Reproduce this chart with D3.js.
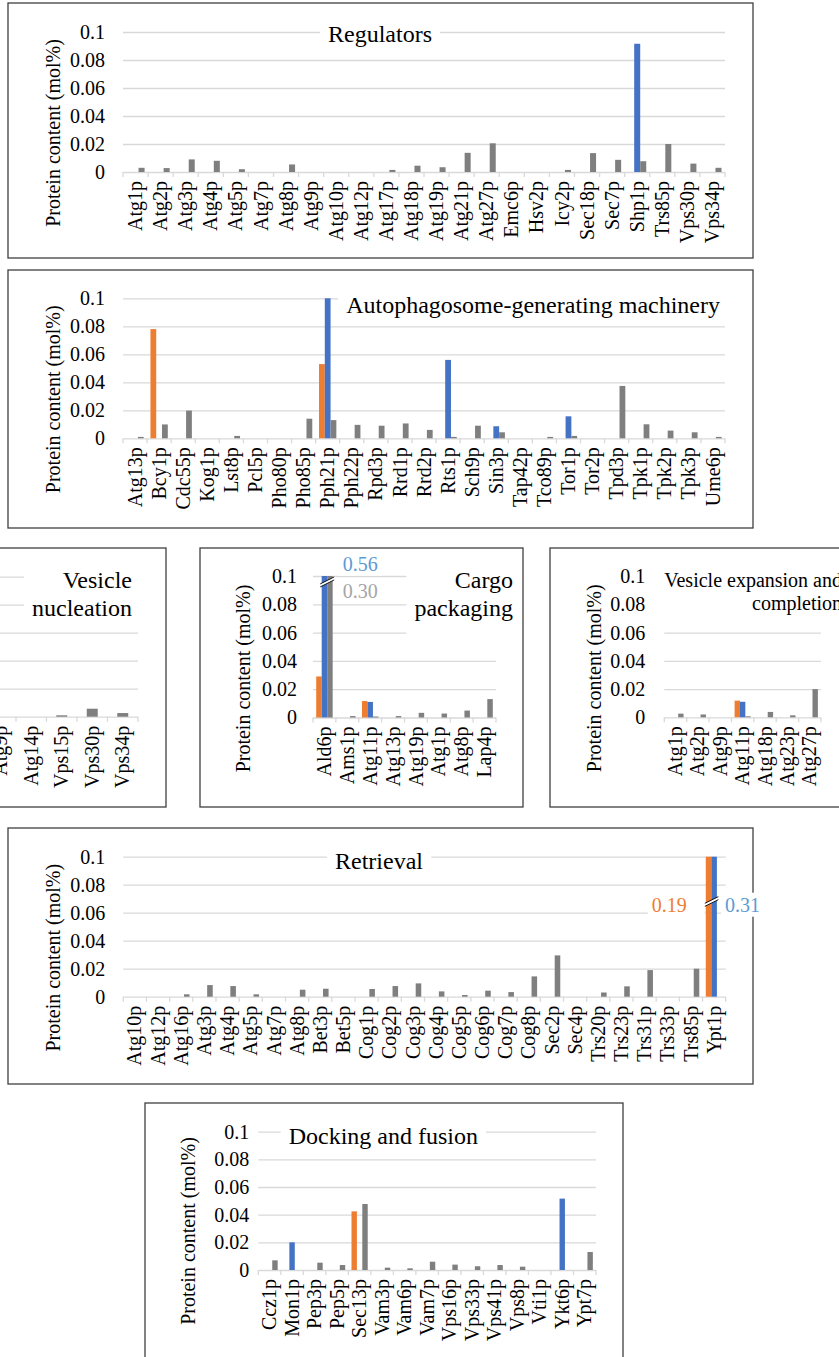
<!DOCTYPE html>
<html>
<head>
<meta charset="utf-8">
<script src="https://cdn.jsdelivr.net/npm/d3@7"></script>
<style>
  body { margin: 0; background: #fff; }
  svg, text { font-family: "Liberation Serif", "Times New Roman", serif; }
</style>
</head>
<body>
<div id="container"></div>
<script>
// data (mol%), three series per protein: orange, blue, gray
let regulatorsCategories = ["Atg1p", "Atg2p", "Atg3p", "Atg4p", "Atg5p", "Atg7p", "Atg8p", "Atg9p", "Atg10p", "Atg12p", "Atg17p", "Atg18p", "Atg19p", "Atg21p", "Atg27p", "Emc6p", "Hsv2p", "Icy2p", "Sec18p", "Sec7p", "Shp1p", "Trs85p", "Vps30p", "Vps34p"];
let regulatorsOrange = [0, 0, 0, 0, 0, 0, 0, 0, 0, 0, 0, 0, 0, 0, 0, 0, 0, 0, 0, 0, 0, 0, 0, 0];
let regulatorsBlue = [0, 0, 0, 0, 0, 0, 0, 0, 0, 0, 0, 0, 0, 0, 0, 0, 0, 0, 0, 0, 0.0916, 0, 0, 0];
let regulatorsGray = [0.003, 0.0028, 0.009, 0.008, 0.002, 0, 0.0054, 0, 0, 0, 0.0015, 0.0045, 0.0034, 0.0137, 0.0205, 0, 0, 0.0015, 0.0135, 0.0087, 0.0077, 0.02, 0.006, 0.003];

let machineryCategories = ["Atg13p", "Bcy1p", "Cdc55p", "Kog1p", "Lst8p", "Pcl5p", "Pho80p", "Pho85p", "Pph21p", "Pph22p", "Rpd3p", "Rrd1p", "Rrd2p", "Rts1p", "Sch9p", "Sin3p", "Tap42p", "Tco89p", "Tor1p", "Tor2p", "Tpd3p", "Tpk1p", "Tpk2p", "Tpk3p", "Ume6p"];
let machineryOrange = [0, 0.078, 0, 0, 0, 0, 0, 0, 0.053, 0, 0, 0, 0, 0, 0, 0, 0, 0, 0, 0, 0, 0, 0, 0, 0];
let machineryBlue = [0, 0, 0, 0, 0, 0, 0, 0, 0.1, 0, 0, 0, 0, 0.056, 0, 0.0086, 0, 0, 0.0157, 0, 0, 0, 0, 0, 0];
let machineryGray = [0.001, 0.0099, 0.0198, 0, 0.0017, 0, 0, 0.014, 0.013, 0.0096, 0.009, 0.0106, 0.006, 0.001, 0.009, 0.0043, 0, 0.001, 0.0017, 0, 0.0374, 0.01, 0.0055, 0.0043, 0.001];

let nucleationCategories = ["Atg9p", "Atg14p", "Vps15p", "Vps30p", "Vps34p"];
let nucleationGray = [0, 0, 0.001, 0.0057, 0.0026];

let cargoCategories = ["Ald6p", "Ams1p", "Atg11p", "Atg13p", "Atg19p", "Atg1p", "Atg8p", "Lap4p"];
let cargoOrange = [0.029, 0, 0.0116, 0, 0, 0, 0, 0];
let cargoBlue = [0.56, 0, 0.011, 0, 0, 0, 0, 0];
let cargoGray = [0.30, 0.001, 0.0007, 0.001, 0.0033, 0.0028, 0.0049, 0.013];

let expansionCategories = ["Atg1p", "Atg2p", "Atg9p", "Atg11p", "Atg18p", "Atg23p", "Atg27p"];
let expansionOrange = [0, 0, 0, 0.0118, 0, 0, 0];
let expansionBlue = [0, 0, 0, 0.011, 0, 0, 0];
let expansionGray = [0.0026, 0.002, 0, 0.0007, 0.0038, 0.0014, 0.02];

let retrievalCategories = ["Atg10p", "Atg12p", "Atg16p", "Atg3p", "Atg4p", "Atg5p", "Atg7p", "Atg8p", "Bet3p", "Bet5p", "Cog1p", "Cog2p", "Cog3p", "Cog4p", "Cog5p", "Cog6p", "Cog7p", "Cog8p", "Sec2p", "Sec4p", "Trs20p", "Trs23p", "Trs31p", "Trs33p", "Trs85p", "Ypt1p"];
let retrievalOrange = [0, 0, 0, 0, 0, 0, 0, 0, 0, 0, 0, 0, 0, 0, 0, 0, 0, 0, 0, 0, 0, 0, 0, 0, 0, 0.19];
let retrievalBlue = [0, 0, 0, 0, 0, 0, 0, 0, 0, 0, 0, 0, 0, 0, 0, 0, 0, 0, 0, 0, 0, 0, 0, 0, 0, 0.31];
let retrievalGray = [0, 0, 0.0017, 0.0083, 0.0076, 0.0017, 0, 0.005, 0.0057, 0, 0.0055, 0.0076, 0.0095, 0.0038, 0.0012, 0.0043, 0.0033, 0.0145, 0.0295, 0, 0.003, 0.0074, 0.019, 0, 0.02, 0];

let dockingCategories = ["Ccz1p", "Mon1p", "Pep3p", "Pep5p", "Sec13p", "Vam3p", "Vam6p", "Vam7p", "Vps16p", "Vps33p", "Vps41p", "Vps8p", "Vti1p", "Ykt6p", "Ypt7p"];
let dockingOrange = [0, 0, 0, 0, 0.0424, 0, 0, 0, 0, 0, 0, 0, 0, 0, 0];
let dockingBlue = [0, 0.02, 0, 0, 0, 0, 0, 0, 0, 0, 0, 0, 0, 0.0516, 0];
let dockingGray = [0.007, 0, 0.0053, 0.0036, 0.0477, 0.0017, 0.0012, 0.006, 0.0039, 0.0027, 0.0036, 0.0024, 0, 0, 0.013];

let yTickValues = [0, 0.02, 0.04, 0.06, 0.08, 0.1];
let yMax = 0.1;
let axisTitle = "Protein content (mol%)";

let barColors = {orange: "#ED7D31", blue: "#4472C4", gray: "#7F7F7F"};
let labelColors = {orange: "#ED7D31", blue: "#5B9BD5", gray: "#A5A5A5"};

// layout of each panel
let panels = [
  {
    title: ["Regulators"], titleX: 432, titleY: 42, titleSize: 24,
    categories: regulatorsCategories,
    values: {orange: regulatorsOrange, blue: regulatorsBlue, gray: regulatorsGray},
    box: [8, 3, 753, 258], xRange: [123, 725], yRange: [172, 32]
  },
  {
    title: ["Autophagosome-generating machinery"], titleX: 720, titleY: 313, titleSize: 24,
    categories: machineryCategories,
    values: {orange: machineryOrange, blue: machineryBlue, gray: machineryGray},
    box: [8, 270, 753, 528], xRange: [123, 725], yRange: [438.3, 298.3]
  },
  {
    // left part of this panel lies outside the picture, so no y labels
    title: ["Vesicle", "nucleation"], titleX: 132, titleY: 588, titleSize: 24, lineHeight: 28,
    categories: nucleationCategories,
    values: {gray: nucleationGray}, barFrac: 0.36, noYLabels: true,
    box: [-300, 548, 166, 807], xRange: [-14.5, 138], yRange: [716.7, 576.7]
  },
  {
    title: ["Cargo", "packaging"], titleX: 513, titleY: 588, titleSize: 24, lineHeight: 28, bgExtra: 10,
    categories: cargoCategories,
    values: {orange: cargoOrange, blue: cargoBlue, gray: cargoGray},
    box: [200, 548, 523, 807], xRange: [313, 496], yRange: [717.5, 576], tickGap: 16,
    breakAt: 0.0958,
    notes: [
      {series: "blue", side: "right", dx: 10, y: 571},
      {series: "gray", side: "right", dx: 10, y: 598}
    ]
  },
  {
    title: ["Vesicle expansion and", "completion"], titleX: 842, titleY: 586.5, titleSize: 20, lineHeight: 23.5,
    categories: expansionCategories,
    values: {orange: expansionOrange, blue: expansionBlue, gray: expansionGray},
    box: [550, 548, 900, 807], xRange: [664.3, 821], yRange: [717.3, 576.3], tickGap: 19
  },
  {
    title: ["Retrieval"], titleX: 423, titleY: 869, titleSize: 24,
    categories: retrievalCategories,
    values: {orange: retrievalOrange, blue: retrievalBlue, gray: retrievalGray},
    box: [8, 828, 753, 1084], xRange: [123.3, 725.7], yRange: [996.7, 856.7],
    breakAt: 0.0679,
    notes: [
      {series: "orange", side: "left", dx: 19, y: 911.7, bgToBar: true},
      {series: "blue", side: "right", dx: 2.5, y: 911.7}
    ]
  },
  {
    title: ["Docking and fusion"], titleX: 478, titleY: 1144, titleSize: 24,
    categories: dockingCategories,
    values: {orange: dockingOrange, blue: dockingBlue, gray: dockingGray},
    box: [145, 1103, 623, 1400], xRange: [258.3, 596], yRange: [1270, 1131.7], tickGap: 9
  }
];

let w = 839;
let h = 1357;

let viz = d3.select("#container")
  .append("svg")
    .attr("width", w)
    .attr("height", h)
    .style("display", "block")
;

viz.append("rect").attr("width", w).attr("height", h).attr("fill", "#fff");

function drawPanel(p){
  let g = viz.append("g").attr("class", "panel");
  let seriesKeys = Object.keys(p.values);

  // frame
  g.append("rect")
    .attr("x", p.box[0])
    .attr("y", p.box[1])
    .attr("width", p.box[2] - p.box[0])
    .attr("height", p.box[3] - p.box[1])
    .attr("fill", "#fff")
    .attr("stroke", "#3f3f3f")
    .attr("stroke-width", 1.3)
  ;

  let x = d3.scaleBand().domain(p.categories).range(p.xRange);
  let y = d3.scaleLinear().domain([0, yMax]).range(p.yRange).clamp(true);
  let bw = x.bandwidth();
  let barW = bw * (p.barFrac || 0.24);
  let inner = d3.scaleBand()
    .domain(seriesKeys)
    .range([-barW * seriesKeys.length / 2, barW * seriesKeys.length / 2])
  ;

  // gridlines + value ticks
  let yAxis = d3.axisLeft(y)
    .tickValues(yTickValues)
    .tickFormat(d => String(d))
    .tickSize(-(p.xRange[1] - p.xRange[0]))
    .tickPadding(p.tickGap || 18)
  ;
  let ag = g.append("g")
    .attr("transform", "translate(" + p.xRange[0] + ",0)")
    .attr("font-family", null)
    .call(yAxis)
  ;
  ag.select(".domain").remove();
  ag.selectAll("line").attr("stroke", "#D9D9D9").attr("stroke-width", 1.3);
  if (p.noYLabels){
    ag.selectAll("text").remove();
  } else {
    ag.selectAll("text")
      .attr("fill", "#000")
      .style("font-family", '"Liberation Serif", serif')
      .style("font-size", "20px")
    ;
  }

  // category tick marks
  let bounds = p.categories.map(c => x(c)).concat([p.xRange[1]]);
  g.selectAll(".ctick").data(bounds).enter()
    .append("line")
      .attr("x1", d => d)
      .attr("x2", d => d)
      .attr("y1", y(0))
      .attr("y2", y(0) + 5)
      .attr("stroke", "#D9D9D9")
      .attr("stroke-width", 1.3)
  ;

  // title with a white box behind it
  let tg = g.append("g");
  let title = tg.append("text")
    .attr("text-anchor", "end")
    .style("font-size", p.titleSize + "px")
    .attr("fill", "#000")
  ;
  p.title.forEach((line, i) => {
    title.append("tspan")
      .attr("x", p.titleX)
      .attr("y", p.titleY + i * (p.lineHeight || 0))
      .text(line)
    ;
  });
  let tb = title.node().getBBox();
  tg.insert("rect", "text")
    .attr("x", tb.x - 8)
    .attr("y", tb.y - 4)
    .attr("width", tb.width + 16)
    .attr("height", tb.height + 8 + (p.bgExtra || 0))
    .attr("fill", "#fff")
  ;

  // bars
  let rows = [];
  p.categories.forEach((c, i) => {
    seriesKeys.forEach(k => {
      rows.push({category: c, key: k, value: p.values[k][i]});
    });
  });
  g.selectAll(".bar").data(rows.filter(d => d.value > 0)).enter()
    .append("rect")
      .attr("class", "bar")
      .attr("x", d => x(d.category) + bw / 2 + inner(d.key))
      .attr("width", barW)
      .attr("y", d => y(d.value))
      .attr("height", d => y(0) - y(d.value))
      .attr("fill", d => barColors[d.key])
  ;

  // broken bars: break mark and the real value
  let broken = rows.filter(d => d.value > yMax);
  if (broken.length){
    let bx0 = d3.min(broken, d => x(d.category) + bw / 2 + inner(d.key)) - 1.5;
    let bx1 = d3.max(broken, d => x(d.category) + bw / 2 + inner(d.key)) + barW + 1.5;
    let yb = y(p.breakAt);
    g.append("path")
      .attr("d", "M" + bx0 + "," + (yb + 2) + "L" + bx1 + "," + (yb - 5) + "L" + bx1 + "," + (yb - 2) + "L" + bx0 + "," + (yb + 5) + "Z")
      .attr("fill", "#fff")
    ;
    [0, 3].forEach(off => {
      g.append("line")
        .attr("x1", bx0).attr("y1", yb + 2 + off)
        .attr("x2", bx1).attr("y2", yb - 5 + off)
        .attr("stroke", "#000")
        .attr("stroke-width", 0.9)
      ;
    });
  }

  (p.notes || []).forEach(n => {
    let d = broken.find(b => b.key == n.series);
    let cx = x(d.category) + bw / 2;
    let left = cx + inner.range()[0];
    let right = cx + inner.range()[1];
    let ng = g.append("g");
    let t = ng.append("text")
      .attr("x", n.side == "right" ? right + n.dx : left - n.dx)
      .attr("y", n.y)
      .attr("text-anchor", n.side == "right" ? "start" : "end")
      .attr("fill", labelColors[n.series])
      .style("font-size", "20px")
      .text(d3.format(".2f")(d.value))
    ;
    let nb = t.node().getBBox();
    ng.insert("rect", "text")
      .attr("x", nb.x - 4)
      .attr("y", nb.y - 1)
      .attr("width", n.bgToBar ? left - nb.x + 3 : nb.width + 8)
      .attr("height", nb.height + 2)
      .attr("fill", "#fff")
    ;
    ng.raise();
  });

  // category labels
  g.selectAll(".clabel").data(p.categories).enter()
    .append("text")
      .attr("class", "clabel")
      .attr("transform", d => "translate(" + (x(d) + bw / 2) + "," + (y(0) + 9) + ") rotate(-90)")
      .attr("dy", "0.33em")
      .attr("text-anchor", "end")
      .style("font-size", "20px")
      .attr("fill", "#000")
      .text(d => d)
  ;

  // y axis title
  if (!p.noYLabels){
    g.append("text")
      .attr("transform", "translate(" + (p.xRange[0] - 70) + "," + (y(0) - 39) + ") rotate(-90)")
      .attr("dy", "0.33em")
      .attr("text-anchor", "middle")
      .style("font-size", "20px")
      .attr("fill", "#000")
      .text(axisTitle)
    ;
  }
}

panels.forEach(drawPanel);
</script>
</body>
</html>
